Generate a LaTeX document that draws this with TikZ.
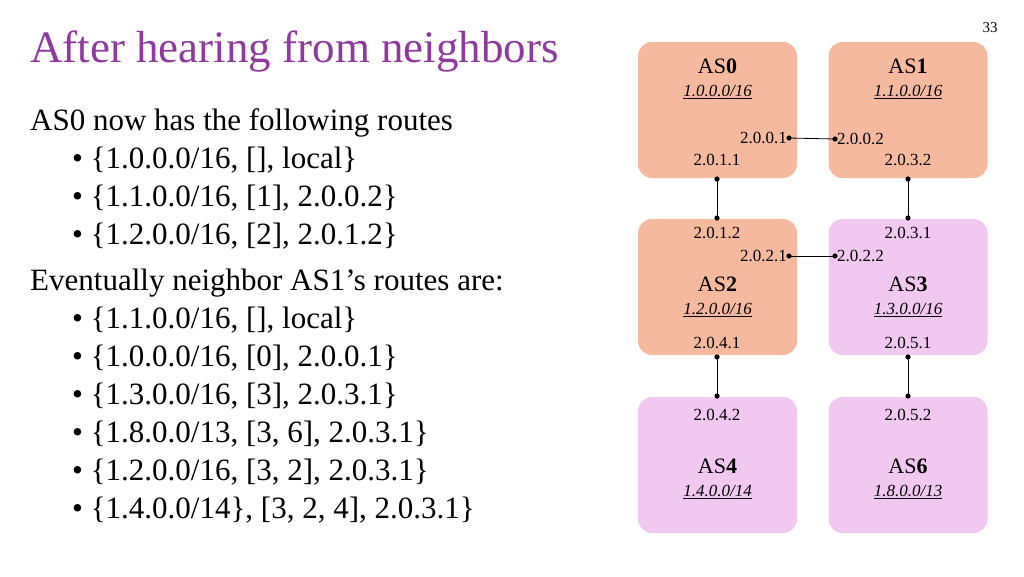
\documentclass[tikz,border=0pt]{standalone}
\usepackage{fontspec}
\setmainfont{Liberation Serif}
\usetikzlibrary{positioning}
\definecolor{salmon}{HTML}{F5B9A0}
\definecolor{lilac}{HTML}{F0C8F0}
\definecolor{titlepurple}{HTML}{8E3A9E}
\tikzset{
  asbox/.style={rounded corners=14pt, minimum width=159pt, minimum height=136pt, inner sep=0pt},
  asname/.style={font=\fontsize{22}{24}\selectfont},
  netpfx/.style={font=\fontsize{17}{19}\selectfont\itshape},
  addr/.style={font=\fontsize{17}{19}\selectfont, inner sep=2pt},
  link/.style={thick},
  line text/.style={anchor=base west, font=\fontsize{31}{33}\selectfont, inner sep=0pt},
}
\newcommand{\pfx}[1]{\underline{#1}}
\begin{document}
\begin{tikzpicture}[x=1pt, y=-1pt]
  \useasboundingbox (0,0) rectangle (1024,576);

  % Title and routes
  \node[anchor=base west, inner sep=0pt, text=titlepurple, font=\fontsize{45}{47}\selectfont] (title) at (30,62) {After hearing from neighbors};
  \node[line text] (intro) at (30,130) {AS0 now has the following routes};
  \foreach \y/\txt in {168/{\{1.0.0.0/16, [], local\}}, 206/{\{1.1.0.0/16, [1], 2.0.0.2\}}, 244/{\{1.2.0.0/16, [2], 2.0.1.2\}}} {
    \node[line text] at (72,\y) {\textbullet\ \txt};
  }
  \node[line text] (later) at (30,290) {Eventually neighbor AS1's routes are:};
  \foreach \y/\txt in {328/{\{1.1.0.0/16, [], local\}}, 366/{\{1.0.0.0/16, [0], 2.0.0.1\}}, 404/{\{1.3.0.0/16, [3], 2.0.3.1\}}, 442/{\{1.8.0.0/13, [3, 6], 2.0.3.1\}}, 480/{\{1.2.0.0/16, [3, 2], 2.0.3.1\}}, 518/{\{1.4.0.0/14\}, [3, 2, 4], 2.0.3.1\}}} {
    \node[line text] at (72,\y) {\textbullet\ \txt};
  }
  \node[font=\fontsize{15}{17}\selectfont] (page) at (990,28) {33};

  % AS boxes
  \node[asbox, fill=salmon] (as0) at (717.5,110) {};
  \node[asbox, fill=salmon] (as1) at (908,110) {};
  \node[asbox, fill=salmon] (as2) at (717.5,287) {};
  \node[asbox, fill=lilac] (as3) at (908,287) {};
  \node[asbox, fill=lilac] (as4) at (717.5,465) {};
  \node[asbox, fill=lilac] (as6) at (908,465) {};

  % Names and prefixes
  \foreach \b/\n/\p/\ya/\yb in {as0/0/{1.0.0.0/16}/66/92, as1/1/{1.1.0.0/16}/66/92, as2/2/{1.2.0.0/16}/284/310, as3/3/{1.3.0.0/16}/284/310, as4/4/{1.4.0.0/14}/466/492, as6/6/{1.8.0.0/13}/466/492} {
    \node[asname] at (\b.north |- 0,\ya) {AS\textbf{\n}};
    \node[netpfx] at (\b.north |- 0,\yb) {\pfx{\p}};
  }

  % Interfaces
  \coordinate (i001) at (789,138);
  \coordinate (i002) at (835,139);
  \coordinate (i011) at (717,179);
  \coordinate (i012) at (717,218);
  \coordinate (i032) at (908,179);
  \coordinate (i031) at (908,218);
  \coordinate (i021) at (789,256);
  \coordinate (i022) at (835,256);
  \coordinate (i041) at (717,357);
  \coordinate (i042) at (717,396);
  \coordinate (i051) at (908,357);
  \coordinate (i052) at (908,396);

  \node[addr, anchor=east] at (i001) {2.0.0.1};
  \node[addr, anchor=west] at (i002) {2.0.0.2};
  \node[addr, anchor=east] at (i021) {2.0.2.1};
  \node[addr, anchor=west] at (i022) {2.0.2.2};
  \node[addr] at (717,160) {2.0.1.1};
  \node[addr] at (908,160) {2.0.3.2};
  \node[addr] at (717,233) {2.0.1.2};
  \node[addr] at (908,233) {2.0.3.1};
  \node[addr] at (717,343) {2.0.4.1};
  \node[addr] at (908,343) {2.0.5.1};
  \node[addr] at (717,415) {2.0.4.2};
  \node[addr] at (908,415) {2.0.5.2};

  % Links
  \foreach \a/\b in {i001/i002, i011/i012, i032/i031, i021/i022, i041/i042, i051/i052} {
    \draw[link] (\a) -- (\b);
    \fill (\a) circle (2.6pt);
    \fill (\b) circle (2.6pt);
  }
\end{tikzpicture}
\end{document}
